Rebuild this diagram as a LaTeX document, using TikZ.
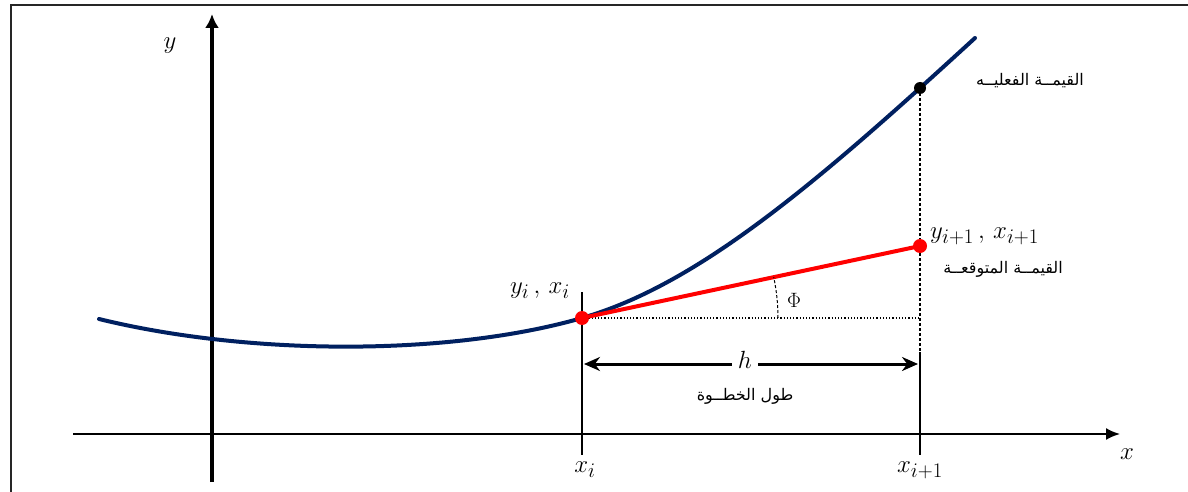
\documentclass[tikz,border=0pt]{standalone}
\usepackage{fontspec}
\usetikzlibrary{arrows.meta}
\TeXXeTstate=1
\newfontfamily\arabicfont[Script=Arabic]{DejaVu Sans}
\definecolor{curveblue}{RGB}{0,32,96}
\definecolor{ptred}{RGB}{255,0,0}
\begin{document}
\begin{tikzpicture}[x=1pt,y=-1pt,
  axis/.style={black,line width=2pt},
  tick/.style={black,line width=2.5pt},
  lbl/.style={inner sep=0pt,font=\fontsize{30}{34}\selectfont},
  ar/.style={inner sep=0pt,font=\arabicfont\fontsize{16}{20}\selectfont},
  dotpt/.style={circle,fill=ptred,inner sep=0pt,minimum size=14pt}]
\useasboundingbox (0,0) rectangle (1188,492);
\fill[white] (0,0) rectangle (1188,492);
% frame
\draw[line width=1.5pt,black!85] (11,492) -- (11,5) -- (1188,5);
% axes
\coordinate (xs) at (73,434);
\coordinate (xe) at (1120,434);
\coordinate (ys) at (212,482);
\coordinate (ye) at (212,14);
\draw[axis,-{Latex[length=14pt,width=12pt]}] (xs) -- (xe);
\draw[line width=4pt,black,-{Latex[length=14pt,width=14pt]}] (ys) -- (ye);
\node[lbl] (ylab) at (170,46) {$y$};
\node[lbl] (xlab) at (1127,454) {$x$};
% tick lines
\coordinate (xit) at (582,292);
\coordinate (xib) at (582,455);
\coordinate (x1t) at (920,88);
\coordinate (x1m) at (920,352);
\coordinate (x1b) at (920,455);
\draw[tick] (xit) -- (xib);
\draw[black,line width=2.5pt,dash pattern=on 3pt off 2pt] (x1t) -- (x1m);
\draw[tick] (x1m) -- (x1b);
\node[lbl] (xi) at (585,470) {$x_i$};
\node[lbl] (xi1) at (920,470) {$x_{i+1}$};
% curve
\coordinate (c0) at (99,319);
\coordinate (c1) at (582,318);
\coordinate (c2) at (975,38);
\draw[curveblue,line width=4pt,line cap=round]
  (c0) .. controls (250,356) and (450,356) .. (c1)
       .. controls (700,284) and (820,180) .. (c2);
% points
\node[dotpt] (P) at (582,318) {};
\node[dotpt] (Q) at (920,246) {};
\node[circle,fill=black,inner sep=0pt,minimum size=12pt] (R) at (920,88) {};
\coordinate (H) at (920,318);
\draw[black,line width=1.2pt,dotted] (P.center) -- (H);
\draw[ptred,line width=4pt] (P.center) -- (Q.center);
% angle
\draw[black,line width=1pt,densely dashed] (778,318) arc[start angle=0,end angle=-12,radius=196];
\node[lbl,font=\fontsize{22}{24}\selectfont] (phi) at (794,300) {$\Phi$};
% h arrow
\coordinate (ha) at (584,364);
\coordinate (hb) at (918,364);
\draw[black,line width=3pt,{Stealth[length=16pt,width=14pt]}-{Stealth[length=16pt,width=14pt]}] (ha) -- (hb);
\node[lbl,fill=white,inner sep=6pt] (h) at (745,360) {$h$};
\node[ar] (step) at (745,396) {\beginR طول الخطــوة\endR};
% labels
\node[lbl] (pl) at (540,291) {$y_i\,,\,x_i$};
\node[lbl,anchor=west] (ql) at (930,236) {$y_{i+1}\,,\,x_{i+1}$};
\node[ar] (est) at (1003,269) {\beginR القيمــة المتوقعــة\endR};
\node[ar] (act) at (1030,81) {\beginR القيمــة الفعليــه\endR};
\end{tikzpicture}
\end{document}
